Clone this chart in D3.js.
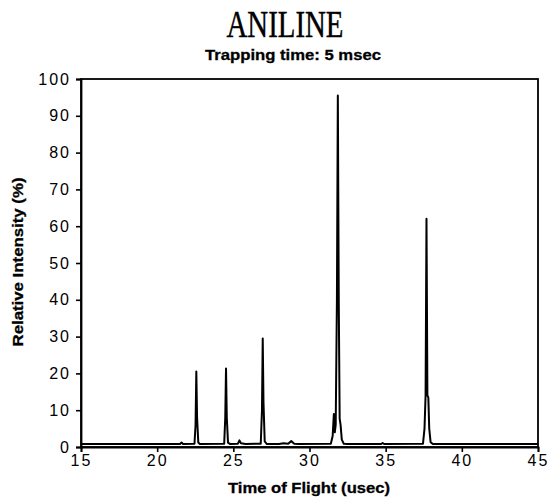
<!DOCTYPE html>
<html>
<head>
<meta charset="utf-8">
<script src="https://cdn.jsdelivr.net/npm/d3@7"></script>
<style>
  html, body { margin: 0; padding: 0; background: #fff; }
  svg { display: block; }
</style>
</head>
<body>
<svg id="chart" width="548" height="497"></svg>
<script>
// Time-of-flight spectrum of aniline, trapping time 5 msec
const flightTime = [
  15.0, 17.0, 19.0, 21.5, 21.6, 21.7,
  22.45, 22.52, 22.57, 22.62, 22.7, 22.8,
  24.4, 24.47, 24.52, 24.57, 24.65, 24.8,
  25.3, 25.4, 25.5, 25.8,
  26.8, 26.88, 26.93, 26.98, 27.06, 27.2,
  28.0, 28.3, 28.6, 28.8, 29.0, 29.3,
  31.4, 31.52, 31.6, 31.66, 31.72, 31.8, 31.86, 31.92, 31.98, 32.04, 32.12, 32.25, 32.5,
  34.7, 34.8, 34.9,
  37.45, 37.55, 37.62, 37.68, 37.74, 37.8, 37.86, 37.95, 38.1,
  45.0
];
const intensity = [
  0.8, 0.8, 0.8, 0.8, 1.2, 0.8,
  0.9, 6, 20.5, 8, 1.2, 0.8,
  0.9, 8, 21.3, 8, 1.2, 0.8,
  0.9, 1.8, 1.0, 0.8,
  0.9, 10, 29.5, 12, 1.5, 0.8,
  0.8, 1.0, 0.9, 1.6, 0.9, 0.8,
  0.9, 3, 9, 4, 6, 40, 95.5, 40, 7.7, 6, 2, 0.9, 0.8,
  0.8, 1.1, 0.8,
  0.9, 5, 14, 62, 14, 13.5, 5, 1.3, 0.8,
  0.8
];
const xTicks = [15, 20, 25, 30, 35, 40, 45];
const yTicks = [0, 10, 20, 30, 40, 50, 60, 70, 80, 90, 100];

const titleText = "ANILINE";
const subtitleText = "Trapping time: 5 msec";
const xTitle = "Time of Flight (usec)";
const yTitle = "Relative Intensity (%)";

const svg = d3.select("#chart");
const plot = { left: 81, right: 538, top: 79, bottom: 447 };

const x = d3.scaleLinear().domain([15, 45]).range([plot.left, plot.right]);
const y = d3.scaleLinear().domain([0, 100]).range([plot.bottom, plot.top]);

const sans = "'Liberation Sans', Arial, Helvetica, sans-serif";

// frame
svg.append("rect")
  .attr("x", plot.left).attr("y", plot.top)
  .attr("width", plot.right - plot.left).attr("height", plot.bottom - plot.top)
  .attr("fill", "none").attr("stroke", "#000").attr("stroke-width", 1.8);

// axes
const yAxis = d3.axisLeft(y).tickValues(yTicks).tickSize(5).tickPadding(5);
const xAxis = d3.axisBottom(x).tickValues(xTicks).tickSize(5).tickPadding(3);

const gy = svg.append("g").attr("transform", `translate(${plot.left},0)`).call(yAxis);
const gx = svg.append("g").attr("transform", `translate(0,${plot.bottom})`).call(xAxis);

[gx, gy].forEach(g => {
  g.select(".domain").attr("stroke", "#000").attr("stroke-width", 1.8);
  g.selectAll(".tick line").attr("stroke", "#000").attr("stroke-width", 1.6);
  g.selectAll(".tick text")
    .attr("fill", "#000")
    .style("font-family", sans)
    .style("font-size", "16px")
    .style("letter-spacing", "2px");
});

// spectrum trace
const line = d3.line()
  .x((d, i) => x(flightTime[i]))
  .y(d => y(d));

svg.append("path")
  .datum(intensity)
  .attr("d", line)
  .attr("fill", "none")
  .attr("stroke", "#000")
  .attr("stroke-width", 2)
  .attr("stroke-linejoin", "round");

// titles
svg.append("text")
  .attr("x", 285).attr("y", 37)
  .attr("text-anchor", "middle")
  .attr("textLength", 117).attr("lengthAdjust", "spacingAndGlyphs")
  .style("font-family", "'Liberation Serif', 'Times New Roman', serif")
  .style("font-size", "37px")
  .style("stroke", "#000").style("stroke-width", 0.4)
  .text(titleText);

svg.append("text")
  .attr("x", 293).attr("y", 60)
  .attr("text-anchor", "middle")
  .attr("textLength", 176).attr("lengthAdjust", "spacingAndGlyphs")
  .style("font-family", sans)
  .style("font-weight", "bold")
  .style("font-size", "15px")
  .style("stroke", "#000").style("stroke-width", 0.3)
  .text(subtitleText);

svg.append("text")
  .attr("x", 309).attr("y", 493)
  .attr("text-anchor", "middle")
  .attr("textLength", 162).attr("lengthAdjust", "spacingAndGlyphs")
  .style("font-family", sans)
  .style("font-weight", "bold")
  .style("font-size", "15px")
  .style("stroke", "#000").style("stroke-width", 0.3)
  .text(xTitle);

svg.append("text")
  .attr("transform", "translate(23,262) rotate(-90)")
  .attr("text-anchor", "middle")
  .attr("textLength", 169).attr("lengthAdjust", "spacingAndGlyphs")
  .style("font-family", sans)
  .style("font-weight", "bold")
  .style("font-size", "15px")
  .style("stroke", "#000").style("stroke-width", 0.3)
  .text(yTitle);
</script>
</body>
</html>
